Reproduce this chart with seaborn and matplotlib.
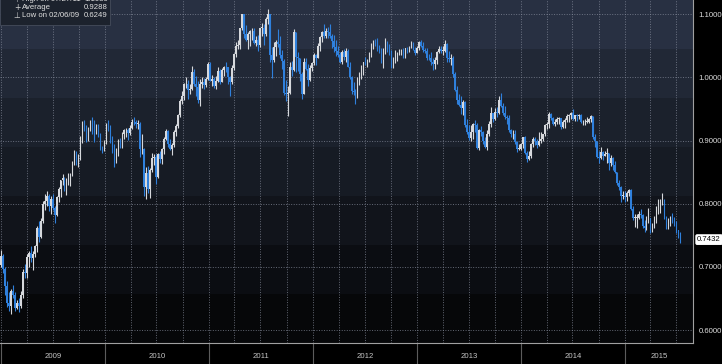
import numpy as np
import pandas as pd
import matplotlib
matplotlib.use("Agg")
import matplotlib.pyplot as plt
import matplotlib.dates as mdates
from matplotlib.patches import Rectangle
from matplotlib.colors import ListedColormap
import seaborn as sns


# ---------- DATA: weekly AUD/USD candles, Jan 2009 - Jul 2015 ---------- #

first_open = 0.7030

close_2009 = [0.7180, 0.6960, 0.6700, 0.6430, 0.6380, 0.6620, 0.6560, 0.6350, 0.6420, 0.6380, 0.6560, 0.6920, 0.6900,
              0.7150, 0.7220, 0.7140, 0.7200, 0.7330, 0.7610, 0.7480, 0.7720, 0.8000, 0.8040, 0.8120, 0.7960, 0.8080,
              0.7930, 0.7820, 0.8100, 0.8230, 0.8370, 0.8410, 0.8320, 0.8360, 0.8430, 0.8460, 0.8650, 0.8780, 0.8660,
              0.8720, 0.9000, 0.9230, 0.9200, 0.9000, 0.9200, 0.9300, 0.9150, 0.9120, 0.9200, 0.9100, 0.8870, 0.8850]
high_2009 = [0.7260, 0.7200, 0.7000, 0.6780, 0.6600, 0.6650, 0.6720, 0.6600, 0.6480, 0.6500, 0.6620, 0.6960, 0.7050,
             0.7200, 0.7250, 0.7330, 0.7250, 0.7350, 0.7650, 0.7720, 0.7780, 0.8050, 0.8160, 0.8200, 0.8150, 0.8120,
             0.8150, 0.7960, 0.8120, 0.8260, 0.8380, 0.8470, 0.8430, 0.8400, 0.8480, 0.8480, 0.8680, 0.8850, 0.8830,
             0.8790, 0.9070, 0.9310, 0.9330, 0.9240, 0.9210, 0.9330, 0.9370, 0.9330, 0.9270, 0.9260, 0.9120, 0.8920]
low_2009 = [0.6990, 0.6900, 0.6560, 0.6360, 0.6300, 0.6249, 0.6500, 0.6300, 0.6330, 0.6280, 0.6350, 0.6500, 0.6820,
            0.6830, 0.7000, 0.7080, 0.6950, 0.7150, 0.7230, 0.7400, 0.7450, 0.7700, 0.7900, 0.7970, 0.7880, 0.7840,
            0.7900, 0.7700, 0.7800, 0.8030, 0.8100, 0.8300, 0.8200, 0.8140, 0.8300, 0.8280, 0.8440, 0.8620, 0.8620,
            0.8580, 0.8700, 0.8960, 0.9150, 0.8980, 0.8990, 0.9150, 0.9100, 0.8970, 0.9100, 0.9050, 0.8850, 0.8800]

close_2010 = [0.8980, 0.9260, 0.9230, 0.9010, 0.8880, 0.8690, 0.8830, 0.9000, 0.8960, 0.9100, 0.9160, 0.9160, 0.9120,
              0.9200, 0.9300, 0.9290, 0.9260, 0.9270, 0.8860, 0.8870, 0.8270, 0.8490, 0.8240, 0.8540, 0.8730, 0.8740,
              0.8420, 0.8780, 0.8710, 0.8860, 0.9030, 0.9150, 0.8950, 0.8860, 0.8930, 0.9130, 0.9230, 0.9400, 0.9630,
              0.9700, 0.9890, 0.9900, 0.9800, 0.9820, 1.0080, 0.9890, 0.9850, 0.9650, 0.9900, 0.9920, 0.9880, 0.9980,
              1.0220]
high_2010 = [0.9010, 0.9280, 0.9330, 0.9250, 0.9080, 0.8950, 0.8880, 0.9020, 0.9040, 0.9130, 0.9180, 0.9200, 0.9200,
             0.9240, 0.9340, 0.9380, 0.9330, 0.9320, 0.9290, 0.9110, 0.8890, 0.8580, 0.8600, 0.8560, 0.8800, 0.8790,
             0.8780, 0.8810, 0.8840, 0.8890, 0.9060, 0.9190, 0.9160, 0.9030, 0.8960, 0.9160, 0.9260, 0.9420, 0.9660,
             0.9790, 0.9910, 1.0000, 0.9960, 0.9890, 1.0180, 1.0140, 1.0030, 0.9950, 0.9980, 1.0000, 0.9990, 1.0010,
             1.0250]
low_2010 = [0.8840, 0.8950, 0.9150, 0.8960, 0.8800, 0.8580, 0.8640, 0.8760, 0.8880, 0.8880, 0.9030, 0.9060, 0.9010,
            0.9090, 0.9180, 0.9240, 0.9200, 0.9180, 0.8740, 0.8780, 0.8120, 0.8067, 0.8170, 0.8090, 0.8500, 0.8620,
            0.8310, 0.8400, 0.8650, 0.8630, 0.8780, 0.9010, 0.8900, 0.8850, 0.8770, 0.8900, 0.9080, 0.9200, 0.9370,
            0.9580, 0.9650, 0.9830, 0.9660, 0.9730, 0.9800, 0.9860, 0.9710, 0.9600, 0.9540, 0.9840, 0.9810, 0.9850,
            0.9960]

close_2011 = [0.9950, 0.9980, 0.9870, 0.9950, 1.0100, 0.9930, 1.0120, 1.0170, 1.0160, 1.0000, 0.9930, 1.0150, 1.0370,
              1.0500, 1.0520, 1.0780, 1.1000, 1.0680, 1.0590, 1.0690, 1.0730, 1.0740, 1.0550, 1.0590, 1.0510, 1.0780,
              1.0780, 1.0680, 1.0920, 1.1000, 1.0350, 1.0270, 1.0480, 1.0560, 1.0530, 1.0350, 1.0260, 0.9760, 0.9740,
              0.9750, 1.0170, 1.0120, 1.0720, 1.0330, 1.0300, 1.0050, 0.9740, 1.0250, 1.0140, 0.9960, 1.0150, 1.0230]
high_2011 = [1.0250, 1.0040, 1.0000, 1.0030, 1.0160, 1.0140, 1.0150, 1.0180, 1.0250, 1.0170, 1.0020, 1.0200, 1.0390,
             1.0560, 1.0590, 1.0790, 1.1010, 1.1000, 1.0830, 1.0720, 1.0750, 1.0790, 1.0780, 1.0650, 1.0670, 1.0790,
             1.0860, 1.0850, 1.0960, 1.1080, 1.1010, 1.0480, 1.0560, 1.0600, 1.0770, 1.0650, 1.0430, 1.0290, 0.9960,
             0.9870, 1.0240, 1.0260, 1.0765, 1.0720, 1.0400, 1.0310, 1.0090, 1.0300, 1.0300, 1.0220, 1.0200, 1.0250]
low_2011 = [0.9940, 0.9860, 0.9840, 0.9810, 0.9930, 0.9890, 0.9920, 1.0030, 1.0090, 0.9890, 0.9705, 0.9890, 1.0120,
            1.0320, 1.0450, 1.0450, 1.0750, 1.0620, 1.0570, 1.0450, 1.0500, 1.0600, 1.0530, 1.0500, 1.0420, 1.0480,
            1.0650, 1.0520, 1.0650, 1.0850, 1.0240, 0.9990, 1.0240, 1.0340, 1.0480, 1.0310, 1.0130, 0.9720, 0.9620,
            0.9387, 0.9740, 1.0030, 1.0100, 1.0080, 1.0100, 0.9950, 0.9663, 0.9730, 1.0120, 0.9860, 0.9950, 1.0100]

close_2012 = [1.0350, 1.0310, 1.0500, 1.0640, 1.0720, 1.0660, 1.0740, 1.0720, 1.0660, 1.0580, 1.0480, 1.0420, 1.0350,
              1.0250, 1.0400, 1.0330, 1.0420, 1.0170, 1.0000, 0.9780, 0.9770, 0.9690, 0.9940, 1.0060, 1.0070, 1.0240,
              1.0220, 1.0270, 1.0370, 1.0520, 1.0560, 1.0550, 1.0450, 1.0440, 1.0320, 1.0440, 1.0560, 1.0450, 1.0390,
              1.0230, 1.0250, 1.0340, 1.0370, 1.0390, 1.0420, 1.0330, 1.0460, 1.0440, 1.0470, 1.0540, 1.0440, 1.0390]
high_2012 = [1.0380, 1.0370, 1.0540, 1.0650, 1.0740, 1.0850, 1.0780, 1.0800, 1.0850, 1.0680, 1.0670, 1.0600, 1.0500,
             1.0400, 1.0430, 1.0450, 1.0470, 1.0450, 1.0240, 1.0030, 0.9930, 0.9820, 1.0000, 1.0090, 1.0190, 1.0250,
             1.0330, 1.0290, 1.0400, 1.0540, 1.0600, 1.0610, 1.0620, 1.0520, 1.0460, 1.0460, 1.0620, 1.0580, 1.0530,
             1.0440, 1.0330, 1.0430, 1.0400, 1.0450, 1.0450, 1.0460, 1.0470, 1.0480, 1.0500, 1.0580, 1.0560, 1.0480]
low_2012 = [1.0190, 1.0200, 1.0300, 1.0420, 1.0560, 1.0630, 1.0620, 1.0620, 1.0620, 1.0470, 1.0400, 1.0340, 1.0320,
            1.0230, 1.0220, 1.0270, 1.0250, 1.0160, 0.9970, 0.9730, 0.9720, 0.9581, 0.9680, 0.9880, 0.9970, 1.0040,
            1.0200, 1.0160, 1.0240, 1.0330, 1.0450, 1.0500, 1.0420, 1.0380, 1.0230, 1.0150, 1.0370, 1.0410, 1.0360,
            1.0150, 1.0150, 1.0230, 1.0260, 1.0350, 1.0360, 1.0300, 1.0310, 1.0380, 1.0410, 1.0460, 1.0430, 1.0360]

close_2013 = [1.0460, 1.0560, 1.0500, 1.0440, 1.0420, 1.0310, 1.0300, 1.0250, 1.0220, 1.0280, 1.0410, 1.0450, 1.0420,
              1.0420, 1.0530, 1.0300, 1.0290, 1.0300, 1.0060, 0.9800, 0.9640, 0.9560, 0.9520, 0.9610, 0.9240, 0.9140,
              0.9040, 0.9140, 0.9270, 0.9250, 0.8890, 0.9160, 0.9140, 0.8990, 0.8900, 0.9100, 0.9260, 0.9440, 0.9340,
              0.9460, 0.9440, 0.9650, 0.9550, 0.9440, 0.9380, 0.9360, 0.9170, 0.9100, 0.9100, 0.8980, 0.8870, 0.8870]
high_2013 = [1.0500, 1.0580, 1.0600, 1.0560, 1.0470, 1.0460, 1.0370, 1.0400, 1.0300, 1.0320, 1.0420, 1.0500, 1.0500,
             1.0490, 1.0598, 1.0550, 1.0420, 1.0370, 1.0340, 1.0080, 0.9860, 0.9740, 0.9700, 0.9650, 0.9620, 0.9340,
             0.9240, 0.9240, 0.9280, 0.9320, 0.9280, 0.9180, 0.9230, 0.9150, 0.9050, 0.9170, 0.9310, 0.9530, 0.9440,
             0.9520, 0.9530, 0.9700, 0.9758, 0.9590, 0.9540, 0.9400, 0.9400, 0.9190, 0.9170, 0.9170, 0.9000, 0.8950]
low_2013 = [1.0380, 1.0440, 1.0480, 1.0400, 1.0380, 1.0270, 1.0270, 1.0200, 1.0120, 1.0140, 1.0210, 1.0380, 1.0380,
            1.0350, 1.0410, 1.0240, 1.0240, 1.0200, 1.0000, 0.9780, 0.9580, 0.9550, 0.9420, 0.9410, 0.9220, 0.9110,
            0.9010, 0.8990, 0.9030, 0.9130, 0.8870, 0.8848, 0.9070, 0.8950, 0.8880, 0.8850, 0.9080, 0.9220, 0.9290,
            0.9330, 0.9370, 0.9420, 0.9530, 0.9410, 0.9340, 0.9260, 0.9140, 0.9050, 0.9020, 0.8940, 0.8820, 0.8850]

close_2014 = [0.8950, 0.9050, 0.8800, 0.8710, 0.8750, 0.8950, 0.9020, 0.8990, 0.8930, 0.9000, 0.9030, 0.9100, 0.9250,
              0.9260, 0.9420, 0.9350, 0.9260, 0.9290, 0.9340, 0.9350, 0.9220, 0.9300, 0.9330, 0.9390, 0.9400, 0.9430,
              0.9340, 0.9400, 0.9390, 0.9410, 0.9290, 0.9290, 0.9300, 0.9300, 0.9340, 0.9390, 0.9050, 0.8990, 0.8740,
              0.8730, 0.8820, 0.8760, 0.8780, 0.8800, 0.8650, 0.8720, 0.8620, 0.8500, 0.8330, 0.8260, 0.8120, 0.8120]
high_2014 = [0.8960, 0.9060, 0.9080, 0.8830, 0.8840, 0.8960, 0.9050, 0.9050, 0.9020, 0.9130, 0.9130, 0.9110, 0.9260,
             0.9290, 0.9460, 0.9440, 0.9380, 0.9340, 0.9380, 0.9380, 0.9360, 0.9330, 0.9360, 0.9420, 0.9420, 0.9450,
             0.9500, 0.9400, 0.9420, 0.9420, 0.9420, 0.9330, 0.9340, 0.9380, 0.9350, 0.9400, 0.9390, 0.9100, 0.9000,
             0.8830, 0.8900, 0.8840, 0.8830, 0.8880, 0.8800, 0.8770, 0.8740, 0.8680, 0.8510, 0.8370, 0.8280, 0.8200]
low_2014 = [0.8850, 0.8880, 0.8780, 0.8660, 0.8700, 0.8720, 0.8900, 0.8930, 0.8880, 0.8920, 0.8960, 0.8990, 0.9080,
            0.9180, 0.9200, 0.9320, 0.9250, 0.9230, 0.9260, 0.9270, 0.9180, 0.9200, 0.9200, 0.9300, 0.9300, 0.9340,
            0.9330, 0.9310, 0.9310, 0.9340, 0.9280, 0.9240, 0.9250, 0.9280, 0.9280, 0.9300, 0.9030, 0.8900, 0.8720,
            0.8640, 0.8710, 0.8700, 0.8760, 0.8650, 0.8540, 0.8600, 0.8540, 0.8480, 0.8290, 0.8220, 0.8030, 0.8080]

close_2015 = [0.8100, 0.8170, 0.8220, 0.7910, 0.7780, 0.7780, 0.7780, 0.7830, 0.7820, 0.7650, 0.7620, 0.7760, 0.7770,
              0.7620, 0.7630, 0.7780, 0.7950, 0.7980, 0.8050, 0.8050, 0.7780, 0.7650, 0.7680, 0.7760, 0.7740, 0.7680,
              0.7580, 0.7530, 0.7432]
high_2015 = [0.8200, 0.8200, 0.8240, 0.8230, 0.7960, 0.7840, 0.7830, 0.7890, 0.7910, 0.7840, 0.7740, 0.7800, 0.7930,
             0.7780, 0.7700, 0.7810, 0.7960, 0.8080, 0.8080, 0.8163, 0.8070, 0.7810, 0.7780, 0.7810, 0.7850, 0.7790,
             0.7720, 0.7580, 0.7560]
low_2015 = [0.8030, 0.8040, 0.8130, 0.7900, 0.7740, 0.7630, 0.7620, 0.7760, 0.7780, 0.7620, 0.7560, 0.7590, 0.7700,
            0.7530, 0.7560, 0.7620, 0.7700, 0.7830, 0.7850, 0.7980, 0.7760, 0.7600, 0.7600, 0.7650, 0.7700, 0.7650,
            0.7530, 0.7450, 0.7380]

years = [2009, 2010, 2011, 2012, 2013, 2014, 2015]
y_ticks = [0.6, 0.7, 0.8, 0.9, 1.0, 1.1]
stats_labels = ["High on 07/27/11", "Average", "Low on 02/06/09"]
stats_values = ["1.1080", "0.9288", "0.6249"]
last_price = 0.7432


# ---------- BUILD CANDLES ---------- #

close = np.array(close_2009 + close_2010 + close_2011 + close_2012 + close_2013 + close_2014 + close_2015)
high = np.array(high_2009 + high_2010 + high_2011 + high_2012 + high_2013 + high_2014 + high_2015)
low = np.array(low_2009 + low_2010 + low_2011 + low_2012 + low_2013 + low_2014 + low_2015)
assert len(close) == len(high) == len(low)

opn = np.concatenate([[first_open], close[:-1]])
high = np.maximum(high, np.maximum(opn, close))
low = np.minimum(low, np.minimum(opn, close))

dates = pd.date_range("2009-01-02", periods=len(close), freq="W-FRI")
x = mdates.date2num(dates) - 2.0

UP = "#d6d8dc"
DOWN = "#2f80dc"
colors = np.where(close >= opn, UP, DOWN)


# ---------- STYLE ---------- #

sns.set_style("dark")
plt.rcParams['font.family'] = ['Liberation Sans', 'DejaVu Sans']
FS = 5.6

W, H = 722, 364
fig = plt.figure(figsize=(W / 100, H / 100), dpi=100, facecolor="black")
ax_bottom_px, ax_right_px = 343, 693
ax = fig.add_axes([0, (H - ax_bottom_px) / H, ax_right_px / W, ax_bottom_px / H])
ax.set_facecolor("black")

# banded dark background, lighter on top
bands = ["#283042", "#212836", "#1b212c", "#161b24", "#11141b", "#0b0d12", "#060709"]
grad = np.arange(len(bands))[:, None]
ax.imshow(grad, cmap=ListedColormap(bands), aspect="auto", extent=[0, 1, 0, 1],
          transform=ax.transAxes, interpolation="nearest", zorder=0)

# candles
ax.vlines(x, low, high, colors=colors, lw=0.8, zorder=3)
ax.bar(x, np.maximum(np.abs(close - opn), 0.0012), bottom=np.minimum(opn, close),
       width=5.6, color=colors, linewidth=0, zorder=4)

# axes limits (pixel mapping of the reference)
x0 = mdates.date2num(pd.Timestamp("2009-01-01")) - 365.25 / 104
ax.set_xlim(x0, x0 + ax_right_px / 104 * 365.25)
ax.set_ylim(0.6 - 13 / 632, 1.1 + 14.3 / 632)

# grid
ax.set_yticks(y_ticks)
ax.set_yticks(np.arange(0.65, 1.11, 0.1), minor=True)
ax.xaxis.set_major_locator(mdates.MonthLocator(bymonth=[1, 4, 7, 10]))
ax.xaxis.set_minor_locator(mdates.MonthLocator())
ax.xaxis.set_major_formatter(plt.NullFormatter())
ax.grid(True, which="major", color="#8a90a0", lw=0.7, ls=(0, (1, 1.6)), alpha=0.7)
ax.set_axisbelow(False)
for gl in ax.get_xgridlines() + ax.get_ygridlines():
    gl.set_zorder(1)

# ticks
ax.yaxis.tick_right()
ax.yaxis.set_major_formatter(plt.FuncFormatter(lambda v, p: f"{v:.4f}"))
ax.tick_params(axis="y", which="major", colors="#b8b8b8", labelcolor="#dcdcdc",
               labelsize=FS, length=3, width=0.8, pad=1.0, direction="out")
ax.tick_params(axis="y", which="minor", colors="#808080", length=2, width=0.6)
ax.tick_params(axis="x", which="both", colors="#c8c8c8", length=2, width=0.6, direction="in")

sns.despine(ax=ax, left=True, top=True, right=False, bottom=False)
for s in ["right", "bottom"]:
    ax.spines[s].set_color("#a0a0a0")
    ax.spines[s].set_linewidth(0.8)

# year separators and labels below the axis
xmin, xmax = ax.get_xlim()
xt = ax.get_xaxis_transform()
for yr in years:
    a = mdates.date2num(pd.Timestamp(f"{yr}-01-01"))
    b = min(mdates.date2num(pd.Timestamp(f"{yr + 1}-01-01")), xmax)
    if a > xmin:
        ax.plot([a, a], [0, -21 / ax_bottom_px], transform=xt, color="#5c5c5c",
                lw=0.8, clip_on=False)
    ax.text((a + b) / 2, -14 / ax_bottom_px, str(yr), transform=xt, ha="center", va="center",
            fontsize=FS, color="#c4c4c4")

# last price tag
ax.annotate(f"{last_price:.4f}", xy=(1, last_price), xycoords=ax.get_yaxis_transform(),
            xytext=(3, 0), textcoords="offset points", ha="left", va="center",
            fontsize=FS, color="black",
            bbox=dict(boxstyle="round,pad=0.15", fc="white", ec="white"))

# stats box in the top-left corner (first line is cut by the top edge, as in the source)
fig.add_artist(Rectangle((0, 1 - 25 / H), 110 / W, 30 / H, transform=fig.transFigure,
                         fc="#1c222d", ec="#454c5c", lw=0.6, zorder=5))
icons = ["\u22a4", "+", "\u22a5"]
for i, (lab, val, ic) in enumerate(zip(stats_labels, stats_values, icons)):
    ypx = 8 * i - 0.5
    fig.text(17 / W, 1 - ypx / H, ic, ha="center", va="center", fontsize=FS,
             color="#d0d0d0", zorder=6, family="DejaVu Sans")
    fig.text(22 / W, 1 - ypx / H, lab, ha="left", va="center", fontsize=FS,
             color="#e0e0e0", zorder=6)
    fig.text(108 / W, 1 - ypx / H, val, ha="right", va="center", fontsize=FS,
             color="#e0e0e0", zorder=6)

fig.savefig("out.png", dpi=100, facecolor="black")
plt.close(fig)
